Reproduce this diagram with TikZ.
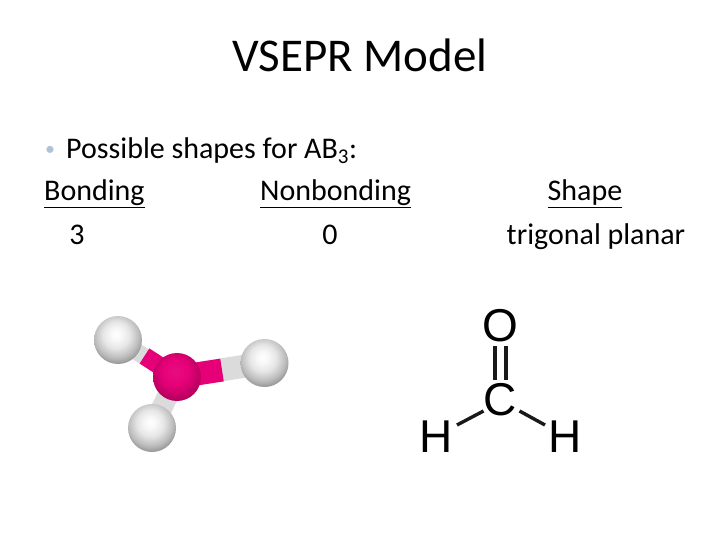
\documentclass[tikz,border=0pt]{standalone}
\usepackage{fontspec}
\setmainfont{Carlito}
\newfontfamily\formulafont{Liberation Sans}
\usepackage{tikz}
\usetikzlibrary{positioning,backgrounds}
\definecolor{pinkatom}{RGB}{230,0,120}
\definecolor{bulletblue}{RGB}{175,195,215}
\pgfdeclareradialshading{whiteball}{\pgfpoint{-2bp}{6bp}}{
  color(0bp)=(white); color(6bp)=(white!97!black); color(14bp)=(white!90!black);
  color(23bp)=(white!74!black); color(31bp)=(white!54!black); color(40bp)=(white!36!black); color(100bp)=(white!36!black)}
\pgfdeclareradialshading{pinkball}{\pgfpoint{-2bp}{6bp}}{
  color(0bp)=(pinkatom!95!white); color(14bp)=(pinkatom);
  color(30bp)=(pinkatom!75!black); color(100bp)=(pinkatom!60!black)}
\tikzset{
  title text/.style={font=\fontsize{47}{50}\selectfont, anchor=base, inner sep=0pt},
  body text/.style={font=\fontsize{30}{34}\selectfont, anchor=base west, inner sep=0pt},
  center text/.style={body text, anchor=base},
  atom/.style={circle, inner sep=0pt, minimum size=#1},
  hydrogen/.style={atom=48pt, shading=whiteball},
  central/.style={atom=48pt, shading=pinkball},
  letter/.style={font=\fontsize{46}{50}\selectfont\formulafont, inner sep=0pt},
  bond/.style={line width=3.4pt, black!90},
  stick/.style={white!86!black},
  pink stick/.style={pinkatom}
}

\begin{document}
\begin{tikzpicture}[x=1pt, y=-1pt]

\useasboundingbox (0,0) rectangle (720,540);

% text
\node [title text] (title) at (360,72) {VSEPR Model};
\node [center text, font=\fontsize{20}{24}\selectfont, text=bulletblue] (bullet) at (50,155.5) {•};
\node [body text] (possible) at (66,158.5) {Possible shapes for AB\textsubscript{3}:};
\node [body text] (bonding) at (44,200.5) {\underline{Bonding}};
\node [body text] (nonbonding) at (260,200.5) {\underline{Nonbonding}};
\node [center text] (shape) at (585,200.5) {\underline{Shape}};
\node [center text] (three) at (77,244) {3};
\node [center text] (zero) at (330,244) {0};
\node [center text] (planar) at (596,244) {trigonal planar};

% ball and stick
\node [hydrogen] (h-1) at (118,340) {};
\node [hydrogen] (h-2) at (264.5,363) {};
\node [hydrogen] (h-3) at (152,428) {};
\node [central] (center) at (177,377) {};
\coordinate (mid-1) at (144.5,356);
\coordinate (mid-2) at (222,370);
\coordinate (mid-3) at (172,388);

\begin{scope}[on background layer]
\foreach \i/\w in {1/17,2/23,3/21}
  \draw [stick, line width=\w pt] (center.center) -- (h-\i.center);
\foreach \i/\w in {1/18,2/23,3/21}
  \draw [pink stick, line width=\w pt] (center.center) -- (mid-\i);
\end{scope}

% formula
\node [letter] (o) at (500.5,326) {O};
\node [letter] (c) at (500.5,400) {C};
\node [letter] (h-left) at (436.5,437) {H};
\node [letter] (h-right) at (565.5,437) {H};

\foreach \s in {-5.5,5.5}
  \draw [bond] ([xshift=\s pt, yshift=-4pt]o.south) -- ([xshift=\s pt, yshift=4pt]c.north);
\draw [bond] (c) ++(-17,11) -- (457,425);
\draw [bond] (c) ++(19,11) -- (545,425);

\end{tikzpicture}
\end{document}
